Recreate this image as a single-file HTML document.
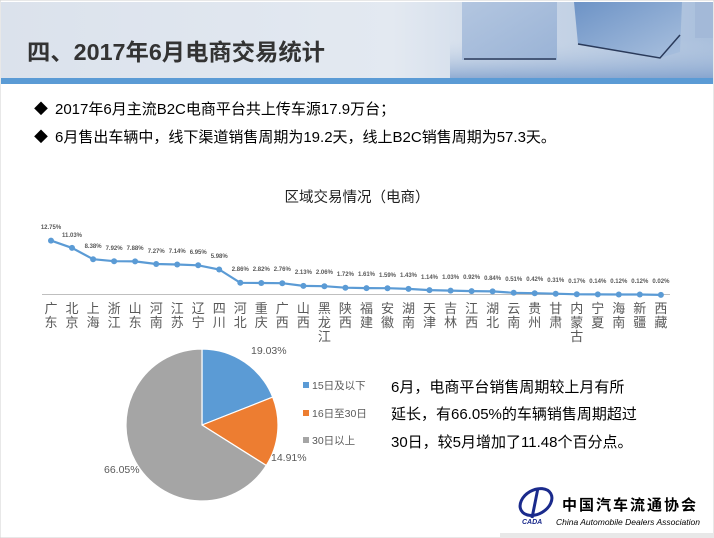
<!DOCTYPE html>
<html><head><meta charset="utf-8"><style>
body{margin:0;width:714px;height:538px;overflow:hidden;background:#fff;font-family:"Liberation Sans","Noto Sans CJK SC",sans-serif;}
</style></head><body>
<svg width="714" height="538" xmlns="http://www.w3.org/2000/svg" style="position:absolute;left:0;top:0">
<defs>
<linearGradient id="hg" x1="0" x2="1" y1="0" y2="0">
<stop offset="0" stop-color="#dbe2ec"/><stop offset="0.55" stop-color="#e3e9f1"/><stop offset="0.75" stop-color="#c9d6e7"/><stop offset="1" stop-color="#a9bfdc"/></linearGradient>
<linearGradient id="fl" x1="0" x2="0" y1="0" y2="1">
<stop offset="0" stop-color="#c4d3e6" stop-opacity="0"/><stop offset="1" stop-color="#7f9fcc" stop-opacity="0.8"/></linearGradient>
<linearGradient id="c1" x1="0" x2="1" y1="0" y2="1">
<stop offset="0" stop-color="#b3c6e0"/><stop offset="1" stop-color="#9ab3d6"/></linearGradient>
<linearGradient id="c2" x1="0" x2="1" y1="0" y2="1">
<stop offset="0" stop-color="#6d93c6"/><stop offset="1" stop-color="#a9c0de"/></linearGradient>
</defs>
<rect x="0" y="0" width="714" height="538" fill="#fff" stroke="#d0d0d0"/>
<rect x="1" y="2" width="712" height="76" fill="url(#hg)"/>
<rect x="450" y="40" width="263" height="38" fill="url(#fl)"/>
<rect x="462" y="2" width="95" height="58" fill="url(#c1)"/>
<line x1="464" y1="59" x2="556" y2="59" stroke="#2a3a5a" stroke-width="1.5"/>
<path d="M574,2 L682,2 L680,52 L660,58 L578,44 Z" fill="url(#c2)"/>
<path d="M578,44 L660,58 L680,35" fill="none" stroke="#2a3a5a" stroke-width="1.5"/>
<rect x="695" y="2" width="18" height="36" fill="#a3b9d8"/>
<rect x="1" y="78" width="712" height="6" fill="#5b9bd5"/>
<text x="27" y="60" font-size="23" font-weight="bold" fill="#333" textLength="298" lengthAdjust="spacingAndGlyphs">四、2017年6月电商交易统计</text>
<text x="34" y="114" font-size="14" fill="#000">◆</text>
<text x="55" y="114" font-size="15" fill="#000">2017年6月主流B2C电商平台共上传车源17.9万台；</text>
<text x="34" y="142" font-size="14" fill="#000">◆</text>
<text x="55" y="142" font-size="15" fill="#000">6月售出车辆中，线下渠道销售周期为19.2天，线上B2C销售周期为57.3天。</text>
<text x="357" y="202" font-size="14.5" fill="#222" text-anchor="middle">区域交易情况（电商）</text>
<line x1="42" y1="294.5" x2="670" y2="294.5" stroke="#bfbfbf" stroke-width="1"/>
<polyline fill="none" stroke="#5b9bd5" stroke-width="2.2" points="51,240.6 72,247.9 93.1,259.2 114.1,261.2 135.1,261.4 156.2,264 177.2,264.5 198.2,265.3 219.2,269.5 240.3,282.8 261.3,283 282.3,283.2 303.4,285.9 324.4,286.2 345.4,287.7 366.5,288.1 387.5,288.2 408.5,288.9 429.5,290.1 450.6,290.6 471.6,291.1 492.6,291.4 513.7,292.8 534.7,293.2 555.7,293.7 576.8,294.3 597.8,294.4 618.8,294.5 639.8,294.5 660.9,294.9"/>
<g fill="#5b9bd5">
<circle cx="51" cy="240.6" r="3"/><circle cx="72" cy="247.9" r="3"/><circle cx="93.1" cy="259.2" r="3"/><circle cx="114.1" cy="261.2" r="3"/><circle cx="135.1" cy="261.4" r="3"/><circle cx="156.2" cy="264" r="3"/><circle cx="177.2" cy="264.5" r="3"/><circle cx="198.2" cy="265.3" r="3"/><circle cx="219.2" cy="269.5" r="3"/><circle cx="240.3" cy="282.8" r="3"/><circle cx="261.3" cy="283" r="3"/><circle cx="282.3" cy="283.2" r="3"/><circle cx="303.4" cy="285.9" r="3"/><circle cx="324.4" cy="286.2" r="3"/><circle cx="345.4" cy="287.7" r="3"/><circle cx="366.5" cy="288.1" r="3"/><circle cx="387.5" cy="288.2" r="3"/><circle cx="408.5" cy="288.9" r="3"/><circle cx="429.5" cy="290.1" r="3"/><circle cx="450.6" cy="290.6" r="3"/><circle cx="471.6" cy="291.1" r="3"/><circle cx="492.6" cy="291.4" r="3"/><circle cx="513.7" cy="292.8" r="3"/><circle cx="534.7" cy="293.2" r="3"/><circle cx="555.7" cy="293.7" r="3"/><circle cx="576.8" cy="294.3" r="3"/><circle cx="597.8" cy="294.4" r="3"/><circle cx="618.8" cy="294.5" r="3"/><circle cx="639.8" cy="294.5" r="3"/><circle cx="660.9" cy="294.9" r="3"/>
</g>
<g font-size="6" font-weight="bold" fill="#595959" text-anchor="middle">
<text x="51" y="229">12.75%</text><text x="72" y="237">11.03%</text><text x="93.1" y="248">8.38%</text><text x="114.1" y="250">7.92%</text><text x="135.1" y="250">7.88%</text><text x="156.2" y="253">7.27%</text><text x="177.2" y="253">7.14%</text><text x="198.2" y="254">6.95%</text><text x="219.2" y="258">5.98%</text><text x="240.3" y="271">2.86%</text><text x="261.3" y="271">2.82%</text><text x="282.3" y="271">2.76%</text><text x="303.4" y="274">2.13%</text><text x="324.4" y="274">2.06%</text><text x="345.4" y="276">1.72%</text><text x="366.5" y="276">1.61%</text><text x="387.5" y="277">1.59%</text><text x="408.5" y="277">1.43%</text><text x="429.5" y="279">1.14%</text><text x="450.6" y="279">1.03%</text><text x="471.6" y="279">0.92%</text><text x="492.6" y="280">0.84%</text><text x="513.7" y="281">0.51%</text><text x="534.7" y="281">0.42%</text><text x="555.7" y="282">0.31%</text><text x="576.8" y="283">0.17%</text><text x="597.8" y="283">0.14%</text><text x="618.8" y="283">0.12%</text><text x="639.8" y="283">0.12%</text><text x="660.9" y="283">0.02%</text>
</g>
<g font-size="13" fill="#595959" text-anchor="middle">
<text x="51" y="313">广</text><text x="51" y="327">东</text>
<text x="72" y="313">北</text><text x="72" y="327">京</text>
<text x="93.1" y="313">上</text><text x="93.1" y="327">海</text>
<text x="114.1" y="313">浙</text><text x="114.1" y="327">江</text>
<text x="135.1" y="313">山</text><text x="135.1" y="327">东</text>
<text x="156.2" y="313">河</text><text x="156.2" y="327">南</text>
<text x="177.2" y="313">江</text><text x="177.2" y="327">苏</text>
<text x="198.2" y="313">辽</text><text x="198.2" y="327">宁</text>
<text x="219.2" y="313">四</text><text x="219.2" y="327">川</text>
<text x="240.3" y="313">河</text><text x="240.3" y="327">北</text>
<text x="261.3" y="313">重</text><text x="261.3" y="327">庆</text>
<text x="282.3" y="313">广</text><text x="282.3" y="327">西</text>
<text x="303.4" y="313">山</text><text x="303.4" y="327">西</text>
<text x="324.4" y="313">黑</text><text x="324.4" y="327">龙</text><text x="324.4" y="341">江</text>
<text x="345.4" y="313">陕</text><text x="345.4" y="327">西</text>
<text x="366.5" y="313">福</text><text x="366.5" y="327">建</text>
<text x="387.5" y="313">安</text><text x="387.5" y="327">徽</text>
<text x="408.5" y="313">湖</text><text x="408.5" y="327">南</text>
<text x="429.5" y="313">天</text><text x="429.5" y="327">津</text>
<text x="450.6" y="313">吉</text><text x="450.6" y="327">林</text>
<text x="471.6" y="313">江</text><text x="471.6" y="327">西</text>
<text x="492.6" y="313">湖</text><text x="492.6" y="327">北</text>
<text x="513.7" y="313">云</text><text x="513.7" y="327">南</text>
<text x="534.7" y="313">贵</text><text x="534.7" y="327">州</text>
<text x="555.7" y="313">甘</text><text x="555.7" y="327">肃</text>
<text x="576.8" y="313">内</text><text x="576.8" y="327">蒙</text><text x="576.8" y="341">古</text>
<text x="597.8" y="313">宁</text><text x="597.8" y="327">夏</text>
<text x="618.8" y="313">海</text><text x="618.8" y="327">南</text>
<text x="639.8" y="313">新</text><text x="639.8" y="327">疆</text>
<text x="660.9" y="313">西</text><text x="660.9" y="327">藏</text>
</g>
<g stroke="#fff" stroke-width="1.2">
<path d="M202,425 L202,349 A76,76 0 0 1 272.7,397.1 Z" fill="#5b9bd5"/>
<path d="M202,425 L272.7,397.1 A76,76 0 0 1 266.3,465.5 Z" fill="#ed7d31"/>
<path d="M202,425 L266.3,465.5 A76,76 0 1 1 202,349 Z" fill="#a5a5a5"/>
</g>
<g font-size="10.5" fill="#595959">
<text x="251" y="354">19.03%</text>
<text x="271" y="461">14.91%</text>
<text x="104" y="473">66.05%</text>
<rect x="303" y="382" width="6" height="6" fill="#5b9bd5"/><text x="312" y="389">15日及以下</text>
<rect x="303" y="410" width="6" height="6" fill="#ed7d31"/><text x="312" y="417">16日至30日</text>
<rect x="303" y="437" width="6" height="6" fill="#a5a5a5"/><text x="312" y="444">30日以上</text>
</g>
<g font-size="15" fill="#000">
<text x="391" y="392">6月，电商平台销售周期较上月有所</text>
<text x="391" y="419">延长，有66.05%的车辆销售周期超过</text>
<text x="391" y="447">30日，较5月增加了11.48个百分点。</text>
</g>
<rect x="500" y="533" width="214" height="5" fill="#e8e8e8"/>
<ellipse cx="536" cy="502" rx="17" ry="12" fill="none" stroke="#1a2a8c" stroke-width="3" transform="rotate(-30 536 502)"/>
<path d="M538,488 L532,518" stroke="#1a2a8c" stroke-width="3"/>
<text x="522" y="524" font-size="7" font-weight="bold" font-style="italic" fill="#1a2a8c">CADA</text>
<text x="562" y="510" font-size="15" font-weight="bold" fill="#000" letter-spacing="2">中国汽车流通协会</text>
<text x="556" y="525" font-size="8.5" font-style="italic" fill="#000">China Automobile Dealers Association</text>
</svg>
</body></html>
